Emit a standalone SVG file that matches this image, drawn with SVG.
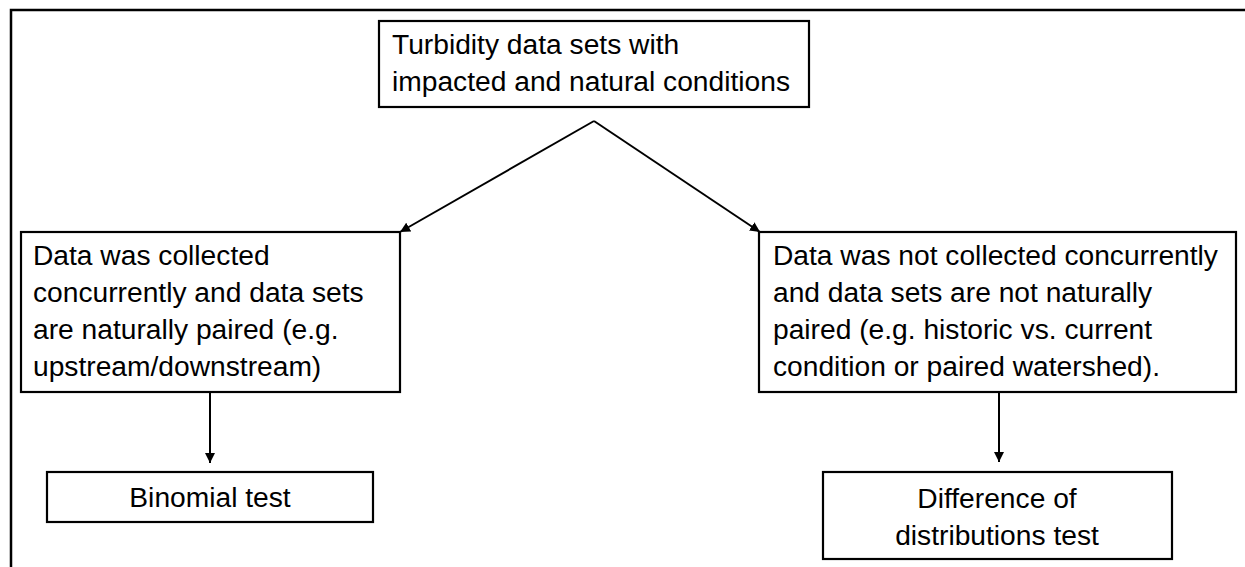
<svg xmlns="http://www.w3.org/2000/svg" width="1245" height="567" viewBox="0 0 1245 567">
<style>
.box{fill:#fff;stroke:#000;stroke-width:2.2}
.t{font-family:"Liberation Sans",Arial,sans-serif;font-size:28.2px;fill:#000}
.c{text-anchor:middle}
.con{stroke:#000;stroke-width:2;fill:none}
</style>
<defs>
<marker id="ah" viewBox="0 0 10 10" refX="10" refY="5" markerWidth="10" markerHeight="10" markerUnits="userSpaceOnUse" orient="auto">
<path d="M0,0 L10,5 L0,10 z" fill="#000"/>
</marker>
</defs>
<rect width="1245" height="567" fill="#fff"/>
<path d="M11,567 V10 H1245" stroke="#000" stroke-width="2.5" fill="none"/>
<g id="connectors">
<path class="con" d="M594,121 L400,232" marker-end="url(#ah)"/>
<path class="con" d="M594,121 L760,232" marker-end="url(#ah)"/>
<path class="con" d="M210,392 V463" marker-end="url(#ah)"/>
<path class="con" d="M999,392 V462" marker-end="url(#ah)"/>
</g>
<g id="top">
<rect class="box" x="379" y="21" width="430" height="86"/>
<text class="t" x="392" y="54">Turbidity data sets with</text>
<text class="t" x="392" y="91">impacted and natural conditions</text>
</g>
<g id="left">
<rect class="box" x="21" y="232" width="379" height="160"/>
<text class="t" x="33" y="265">Data was collected</text>
<text class="t" x="33" y="302">concurrently and data sets</text>
<text class="t" x="33" y="339">are naturally paired (e.g.</text>
<text class="t" x="33" y="376">upstream/downstream)</text>
</g>
<g id="right">
<rect class="box" x="759" y="232" width="477" height="160"/>
<text class="t" x="773" y="265">Data was not collected concurrently</text>
<text class="t" x="773" y="302">and data sets are not naturally</text>
<text class="t" x="773" y="339">paired (e.g. historic vs. current</text>
<text class="t" x="773" y="376">condition or paired watershed).</text>
</g>
<g id="binomial">
<rect class="box" x="47" y="472" width="326" height="50"/>
<text class="t c" x="210" y="507">Binomial test</text>
</g>
<g id="difference">
<rect class="box" x="823" y="472" width="349" height="87"/>
<text class="t c" x="997" y="508">Difference of</text>
<text class="t c" x="997" y="545">distributions test</text>
</g>
</svg>
